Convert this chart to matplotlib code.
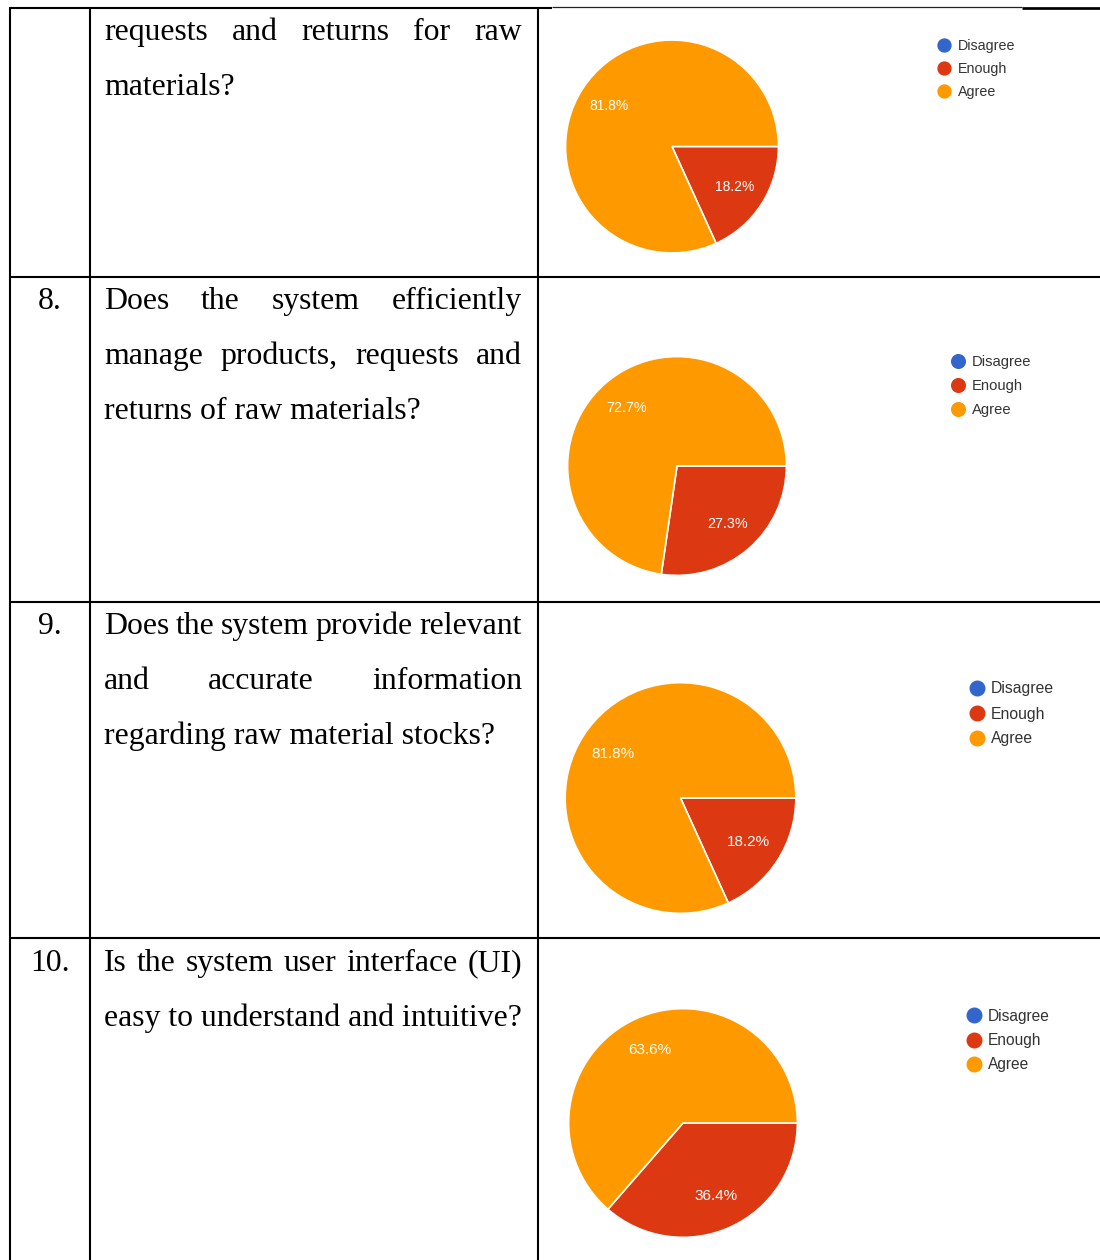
import matplotlib
matplotlib.use("Agg")
import matplotlib.pyplot as plt

W, H = 1100, 1260

# ---------------- data ----------------
categories = ["Disagree", "Enough", "Agree"]
colors = ["#3366CC", "#DC3912", "#FF9900"]

q7_values = [0, 18.2, 81.8]
q8_values = [0, 27.3, 72.7]
q9_values = [0, 18.2, 81.8]
q10_values = [0, 36.4, 63.6]

row_numbers = ["", "8.", "9.", "10."]
row_lines = [
    [("requests and returns for raw", True), ("materials?", False)],
    [("Does the system efficiently", True), ("manage products, requests and", True),
     ("returns of raw materials?", False)],
    [("Does the system provide relevant", True), ("and accurate information", True),
     ("regarding raw material stocks?", False)],
    [("Is the system user interface (UI)", True), ("easy to understand and intuitive?", False)],
]

# ---------------- layout ----------------
fig = plt.figure(figsize=(W / 100, H / 100), dpi=100)
ax = fig.add_axes([0, 0, 1, 1])
ax.set_xlim(0, W)
ax.set_ylim(H, 0)
ax.axis("off")

LW = 1.5
# table lines
ax.plot([10, 552], [8, 8], color="black", lw=LW, solid_capstyle="butt")
ax.plot([552, 1022], [6.5, 6.5], color="#222222", lw=0.9, solid_capstyle="butt")
ax.plot([1022, 1100], [8, 8], color="black", lw=LW * 1.3, solid_capstyle="butt")
for yl in [277, 602, 938]:
    ax.plot([10, 1100], [yl, yl], color="black", lw=LW, solid_capstyle="butt")
for xl in [10, 90, 538]:
    ax.plot([xl, xl], [7, H], color="black", lw=LW, solid_capstyle="butt")

# text cells
FS = 22.85
SERIF = "Liberation Serif"
L, R = 104, 522
first_baselines = [40, 309, 634, 971]
LINE_SP = 55
renderer = fig.canvas.get_renderer()

for num, lines, y0 in zip(row_numbers, row_lines, first_baselines):
    if num:
        ax.text(50, y0, num, fontsize=FS, family=SERIF, ha="center", va="baseline")
    for i, (line, justify) in enumerate(lines):
        y = y0 + i * LINE_SP
        if not justify:
            ax.text(L, y, line, fontsize=FS, family=SERIF, ha="left", va="baseline")
            continue
        words = line.split(" ")
        texts = [ax.text(0, y, w, fontsize=FS, family=SERIF, ha="left", va="baseline")
                 for w in words]
        widths = [t.get_window_extent(renderer).width for t in texts]
        gap = (R - L - sum(widths)) / (len(words) - 1)
        x = L
        for t, wdt in zip(texts, widths):
            t.set_x(x)
            x += wdt + gap

# pies
pies = [
    dict(vals=q7_values, cx=672, cy=146.5, r=107.5, lab_fs=10.0,
         leg_x=944, leg_y=[45, 68, 91], leg_fs=10.3, ms=9.3),
    dict(vals=q8_values, cx=677, cy=466, r=110.5, lab_fs=10.4,
         leg_x=958, leg_y=[361, 385, 409], leg_fs=10.6, ms=9.8),
    dict(vals=q9_values, cx=680.5, cy=798, r=116.5, lab_fs=11.0,
         leg_x=977, leg_y=[688, 713, 738], leg_fs=11.3, ms=10.5),
    dict(vals=q10_values, cx=683, cy=1123, r=115.5, lab_fs=11.0,
         leg_x=974, leg_y=[1015, 1040, 1064], leg_fs=11.2, ms=10.5),
]

SANS = "Liberation Sans"
for p in pies:
    cx, cy, r = p["cx"], p["cy"], p["r"]
    pax = fig.add_axes([(cx - r) / W, (H - (cy + r)) / H, 2 * r / W, 2 * r / H])
    vals = [v for v in p["vals"] if v > 0]
    cols = [c for v, c in zip(p["vals"], colors) if v > 0]
    wedges, _, autotexts = pax.pie(
        vals, colors=cols, startangle=0, counterclock=False,
        autopct="%.1f%%", pctdistance=0.7,
        wedgeprops=dict(edgecolor="white", linewidth=1.2),
        textprops=dict(color="white", fontsize=p["lab_fs"], family=SANS))
    pax.set_xlim(-1.01, 1.01)
    pax.set_ylim(-1.01, 1.01)
    pax.axis("off")
    # legend
    for cat, col, ly in zip(categories, colors, p["leg_y"]):
        ax.plot([p["leg_x"]], [ly], marker="o", ms=p["ms"], color=col, mec=col)
        ax.text(p["leg_x"] + 14, ly + 1, cat, fontsize=p["leg_fs"], family=SANS,
                color="#333333", ha="left", va="center")

fig.savefig("out.png", dpi=100)
